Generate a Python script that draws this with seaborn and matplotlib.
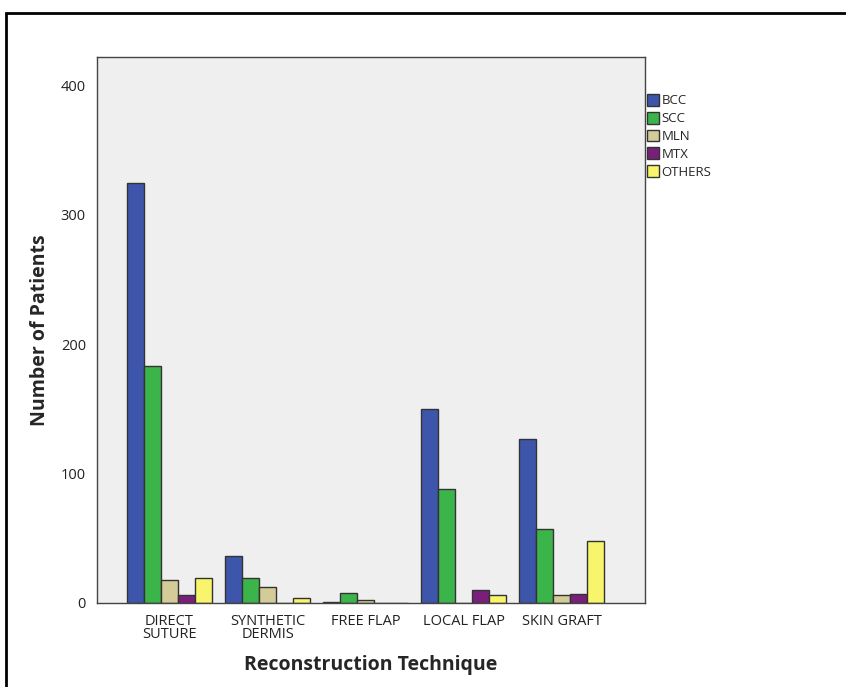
import matplotlib
matplotlib.use("Agg")
import matplotlib.pyplot as plt
import seaborn as sns
import pandas as pd
from matplotlib.patches import Rectangle, Patch

techniques = ["DIRECT\nSUTURE", "SYNTHETIC\nDERMIS", "FREE FLAP", "LOCAL FLAP", "SKIN GRAFT"]
tumours = ["BCC", "SCC", "MLN", "MTX", "OTHERS"]
bcc = [325, 36, 1, 150, 127]
scc = [183, 19, 8, 88, 57]
mln = [18, 12, 2, 0, 6]
mtx = [6, 0, 0, 10, 7]
others = [19, 4, 0, 6, 48]
colors = ["#3d56ab", "#3bb54a", "#d3cb98", "#7a1e7c", "#f8f46c"]

rows = []
for name, vals in zip(tumours, [bcc, scc, mln, mtx, others]):
    for t, v in zip(techniques, vals):
        rows.append({"Technique": t, "Type": name, "Count": v})
df = pd.DataFrame(rows)

sns.set_style("white")
plt.rcParams['font.family'] = ['Open Sans', 'DejaVu Sans']

fig = plt.figure(figsize=(8.46, 6.87), dpi=100)
ax = fig.add_axes([97/846, 1-603/687, 548/846, 546/687])
ax.set_facecolor("#efefef")

sns.barplot(data=df, x="Technique", y="Count", hue="Type", order=techniques,
            hue_order=tumours, palette=colors, width=0.87, gap=0,
            edgecolor="#333333", linewidth=1.0, saturation=1, ax=ax, legend=False)

ax.set_xlim(-0.74, 4.85)
ax.set_ylim(0, 422)
ax.set_yticks([0, 100, 200, 300, 400])
ax.tick_params(axis="both", direction="out", length=6, width=1, color="#333333",
               labelsize=10.5, labelcolor="#222222", pad=2)
ax.tick_params(axis="x", pad=2)
for lbl in ax.get_xticklabels() + ax.get_yticklabels():
    lbl.set_fontweight("medium")
for lbl in ax.get_xticklabels():
    lbl.set_linespacing(0.85)
for s in ax.spines.values():
    s.set_color("#444444")
    s.set_linewidth(1.0)
    s.set_visible(True)

ax.set_xlabel("Reconstruction Technique", fontsize=14, fontweight="bold", labelpad=9)
ax.set_ylabel("Number of Patients", fontsize=14, fontweight="bold", labelpad=8)

handles = [Patch(facecolor=c, edgecolor="#333333", linewidth=1) for c in colors]
fig.legend(handles, tumours, loc="upper left", bbox_to_anchor=(647/846, 1-94/687),
           frameon=False, fontsize=9.5, handlelength=0.9, handleheight=1.0,
           handletextpad=0.2, labelspacing=0.33, borderaxespad=0, borderpad=0)

fig.patches.append(Rectangle((6/846, -0.05), 1.0, 1-13/687+0.05, transform=fig.transFigure,
                             fill=False, edgecolor="black", linewidth=2.0))

fig.savefig("out.png", dpi=100)
